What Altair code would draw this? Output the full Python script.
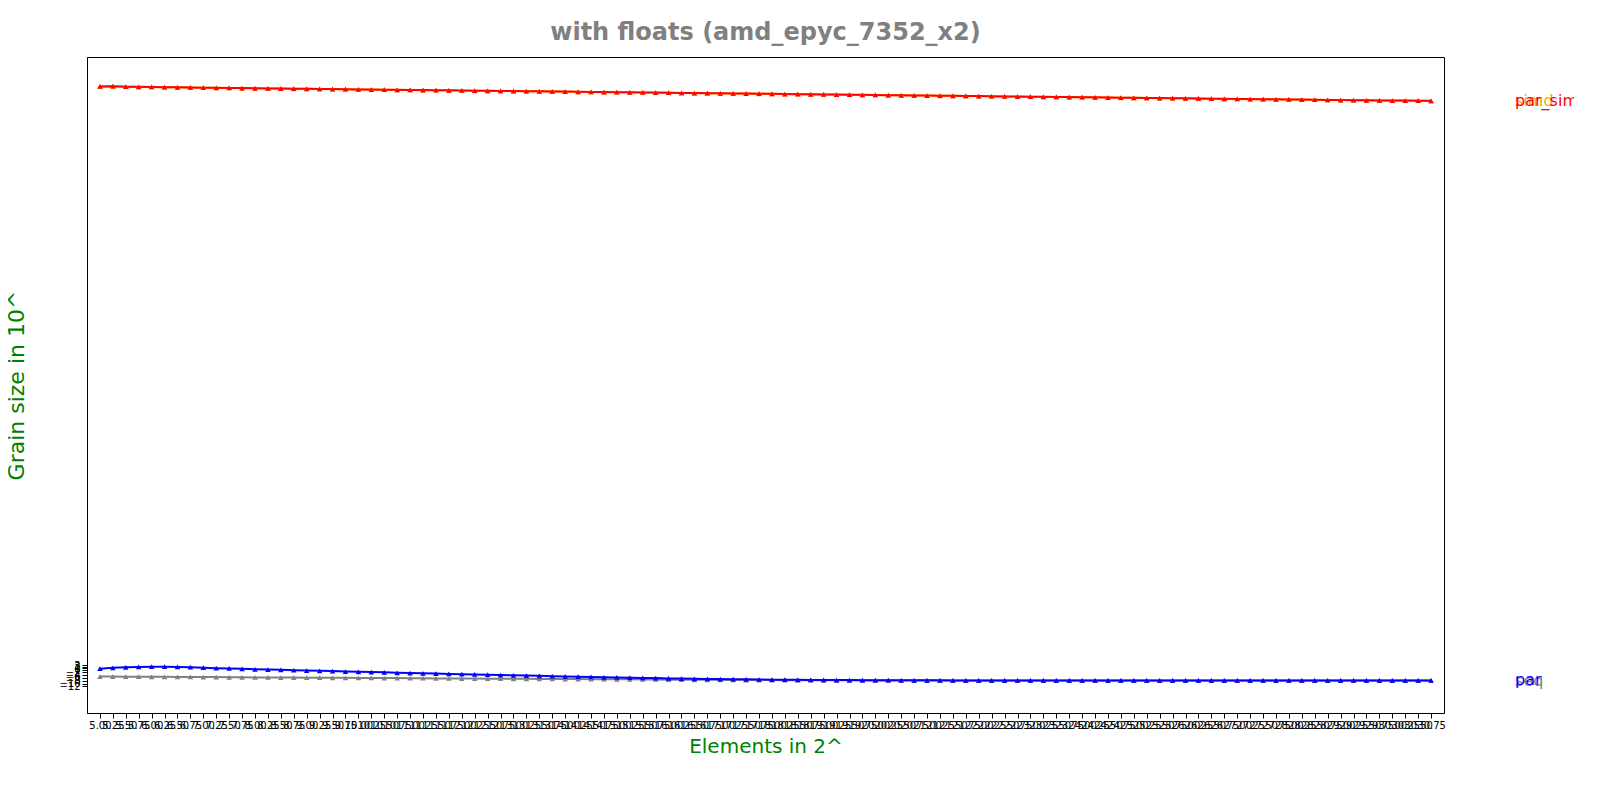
import pandas as pd
import altair as alt

# x positions: Elements in 2^ (5.00 .. 30.75, step 0.25)
elements = [5 + 0.25 * i for i in range(104)]

par_simd = [
    416.0, 416.2, 415.8, 415.7, 415.6, 415.5, 415.4, 415.3, 415.1, 415.0, 414.9, 414.8, 414.7,
    414.6, 414.5, 414.4, 414.3, 414.2, 414.1, 414.0, 413.9, 413.8, 413.7, 413.6, 413.5, 413.4,
    413.3, 413.2, 413.1, 413.0, 412.9, 412.8, 412.7, 412.6, 412.5, 412.4, 412.3, 412.2, 412.1,
    412.0, 411.9, 411.8, 411.7, 411.6, 411.5, 411.4, 411.3, 411.2, 411.1, 411.0, 410.9, 410.8,
    410.7, 410.6, 410.5, 410.4, 410.3, 410.2, 410.1, 410.0, 409.9, 409.8, 409.7, 409.6, 409.5,
    409.4, 409.3, 409.2, 409.1, 409.0, 408.9, 408.8, 408.7, 408.6, 408.5, 408.4, 408.3, 408.2,
    408.1, 408.0, 407.9, 407.8, 407.7, 407.6, 407.5, 407.4, 407.3, 407.2, 407.1, 407.0, 406.9,
    406.8, 406.7, 406.6, 406.5, 406.4, 406.3, 406.2, 406.1, 406.0, 405.9, 405.9, 405.8, 405.7,
]
simd = [
    415.9, 416.1, 415.8, 415.6, 415.6, 415.4, 415.4, 415.2, 415.1, 414.9, 414.9, 414.7, 414.7,
    414.5, 414.5, 414.3, 414.3, 414.1, 414.1, 413.9, 413.9, 413.7, 413.7, 413.5, 413.5, 413.3,
    413.3, 413.1, 413.1, 412.9, 412.9, 412.7, 412.7, 412.5, 412.5, 412.3, 412.3, 412.1, 412.1,
    411.9, 411.9, 411.7, 411.7, 411.5, 411.5, 411.3, 411.3, 411.1, 411.1, 410.9, 410.9, 410.7,
    410.7, 410.5, 410.5, 410.3, 410.3, 410.1, 410.1, 409.9, 409.9, 409.7, 409.7, 409.5, 409.5,
    409.3, 409.3, 409.1, 409.1, 408.9, 408.9, 408.7, 408.7, 408.5, 408.5, 408.3, 408.3, 408.1,
    408.1, 407.9, 407.9, 407.7, 407.7, 407.5, 407.5, 407.3, 407.3, 407.1, 407.1, 406.9, 406.9,
    406.7, 406.7, 406.5, 406.5, 406.3, 406.3, 406.1, 406.1, 405.9, 405.9, 405.8, 405.8, 405.6,
]
par = [
    0.6, 1.2, 1.6, 1.9, 2.0, 2.0, 1.9, 1.7, 1.3, 1.0, 0.8, 0.5, 0.2,
    0.0, -0.2, -0.5, -0.7, -0.9, -1.1, -1.4, -1.6, -1.8, -2.0, -2.3, -2.5, -2.7,
    -2.9, -3.1, -3.3, -3.5, -3.7, -3.9, -4.1, -4.3, -4.5, -4.7, -4.9, -5.1, -5.3,
    -5.5, -5.6, -5.8, -6.0, -6.1, -6.3, -6.4, -6.6, -6.7, -6.8, -6.9, -7.0, -7.1,
    -7.2, -7.2, -7.3, -7.4, -7.4, -7.5, -7.5, -7.6, -7.6, -7.6, -7.7, -7.7, -7.7,
    -7.7, -7.8, -7.8, -7.8, -7.8, -7.8, -7.8, -7.8, -7.8, -7.8, -7.8, -7.8, -7.8,
    -7.8, -7.8, -7.8, -7.8, -7.8, -7.8, -7.8, -7.8, -7.8, -7.8, -7.8, -7.8, -7.8,
    -7.8, -7.8, -7.8, -7.8, -7.8, -7.8, -7.8, -7.8, -7.8, -7.8, -7.8, -7.8, -7.8,
]
seq = [
    -5.0, -5.0, -5.1, -5.1, -5.2, -5.2, -5.3, -5.3, -5.4, -5.4, -5.5, -5.5, -5.6,
    -5.6, -5.7, -5.7, -5.8, -5.8, -5.9, -5.9, -6.0, -6.0, -6.1, -6.1, -6.2, -6.2,
    -6.3, -6.3, -6.4, -6.4, -6.5, -6.5, -6.6, -6.6, -6.7, -6.7, -6.8, -6.8, -6.9,
    -6.9, -7.0, -7.0, -7.1, -7.1, -7.2, -7.2, -7.3, -7.3, -7.4, -7.4, -7.5, -7.5,
    -7.5, -7.6, -7.6, -7.6, -7.7, -7.7, -7.7, -7.7, -7.8, -7.8, -7.8, -7.8, -7.8,
    -7.8, -7.9, -7.9, -7.9, -7.9, -7.9, -7.9, -7.9, -7.9, -7.9, -7.9, -7.9, -7.9,
    -7.9, -7.9, -7.9, -7.9, -7.9, -7.9, -7.9, -7.9, -7.9, -7.9, -7.9, -7.9, -7.9,
    -7.9, -7.9, -7.9, -7.9, -7.9, -7.9, -7.9, -7.9, -7.9, -7.9, -7.9, -7.9, -7.9,
]
y_ticks = [-12, -10, -8, -6, -4, -2, 0, 1, 2, 3]

series = ["seq", "par", "simd", "par_simd"]
colors = ["grey", "blue", "orange", "red"]
values = {"seq": seq, "par": par, "simd": simd, "par_simd": par_simd}

x_labels = [f"{x:.2f}" for x in elements]

rows = []
for s in series:
    for xl, y in zip(x_labels, values[s]):
        rows.append({"x": xl, "y": y, "series": s, "order": series.index(s)})
df = pd.DataFrame(rows)
last = df[df["x"] == x_labels[-1]]

FONT = "DejaVu Sans"
xs = alt.Scale(type="point", domain=x_labels, padding=5.1)
ys = alt.Scale(domain=[-31, 437], nice=False, zero=False)
cs = alt.Scale(domain=series, range=colors)

lines = alt.Chart(df).mark_line(
    strokeWidth=2,
    point=alt.OverlayMarkDef(shape="triangle-up", size=30, filled=True),
).encode(
    x=alt.X("x:O", scale=xs, sort=None, title="Elements in 2^",
            axis=alt.Axis(labelFontSize=10, labelOverlap=False, labelAngle=0, grid=False,
                          titleFontSize=20, titleColor="green", titleFontWeight="normal",
                          labelColor="black", domainColor="black", tickColor="black",
                          titlePadding=6, labelFont=FONT, titleFont=FONT)),
    y=alt.Y("y:Q", scale=ys, title="Grain size in 10^",
            axis=alt.Axis(values=y_ticks, labelFontSize=10, labelOverlap=False, grid=False,
                          titleFontSize=22, titleColor="green", titleFontWeight="normal",
                          labelColor="black", domainColor="black", tickColor="black",
                          titlePadding=30, labelFont=FONT, titleFont=FONT)),
    color=alt.Color("series:N", scale=cs, legend=None),
    detail="series:N",
    order=alt.Order("order:Q"),
)

labels = alt.Chart(last).mark_text(align="left", dx=84, fontSize=16, font=FONT).encode(
    x=alt.X("x:O", scale=xs, sort=None),
    y=alt.Y("y:Q", scale=ys),
    text="series:N",
    color=alt.Color("series:N", scale=cs, legend=None),
)

chart = (lines + labels).properties(
    width=1357,
    height=656,
    autosize="none",
    padding={"left": 79, "top": 49, "right": 130, "bottom": 64},
    title=alt.Title("with floats  (amd_epyc_7352_x2)", fontSize=24, color="grey",
                    fontWeight="bold", offset=12, font=FONT),
).configure_view(stroke="black", strokeWidth=1)

chart.save("out.html", embed_options={"renderer": "svg", "actions": False})
